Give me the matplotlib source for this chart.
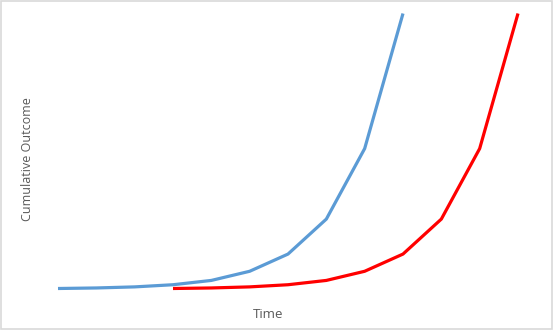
import matplotlib
matplotlib.use("Agg")
import matplotlib.pyplot as plt
from matplotlib.patches import Rectangle

# time steps (categories) and the two series
time_blue = [0, 1, 2, 3, 4, 5, 6, 7, 8, 9]
time_red = [3, 4, 5, 6, 7, 8, 9, 10, 11, 12]
outcome_blue = [0, 1, 3, 7, 15, 32, 64, 129, 260, 511]
outcome_red = [0, 1, 3, 7, 15, 32, 64, 129, 260, 511]

W, H = 554, 330
fig = plt.figure(figsize=(W / 100, H / 100), dpi=100)
fig.patch.set_facecolor("white")

ax = fig.add_axes([58 / W, (H - 288.5) / H, 460 / W, 275 / H])
ax.plot(time_blue, outcome_blue, color="#5B9BD5", lw=2.3, clip_on=False,
        solid_capstyle="butt")
ax.plot(time_red, outcome_red, color="#FF0000", lw=2.3, clip_on=False,
        solid_capstyle="butt")
ax.set_xlim(0, 12)
ax.set_ylim(0, 511)
ax.axis("off")

fig.text(28 / W, 1 - 159 / H, "Cumulative Outcome", rotation=90,
         ha="center", va="center", color="#595959", fontsize=9,
         family="Open Sans")
fig.text(268 / W, 1 - 315 / H, "Time", ha="center", va="center",
         color="#595959", fontsize=9.5, family="Open Sans")

fig.patches.append(Rectangle((0.5 / W, 1.5 / H), 1 - 2.5 / W, 1 - 2.5 / H,
                             transform=fig.transFigure, fill=False,
                             edgecolor="#d9d9d9", lw=1.2))

fig.savefig("out.png", dpi=100)
